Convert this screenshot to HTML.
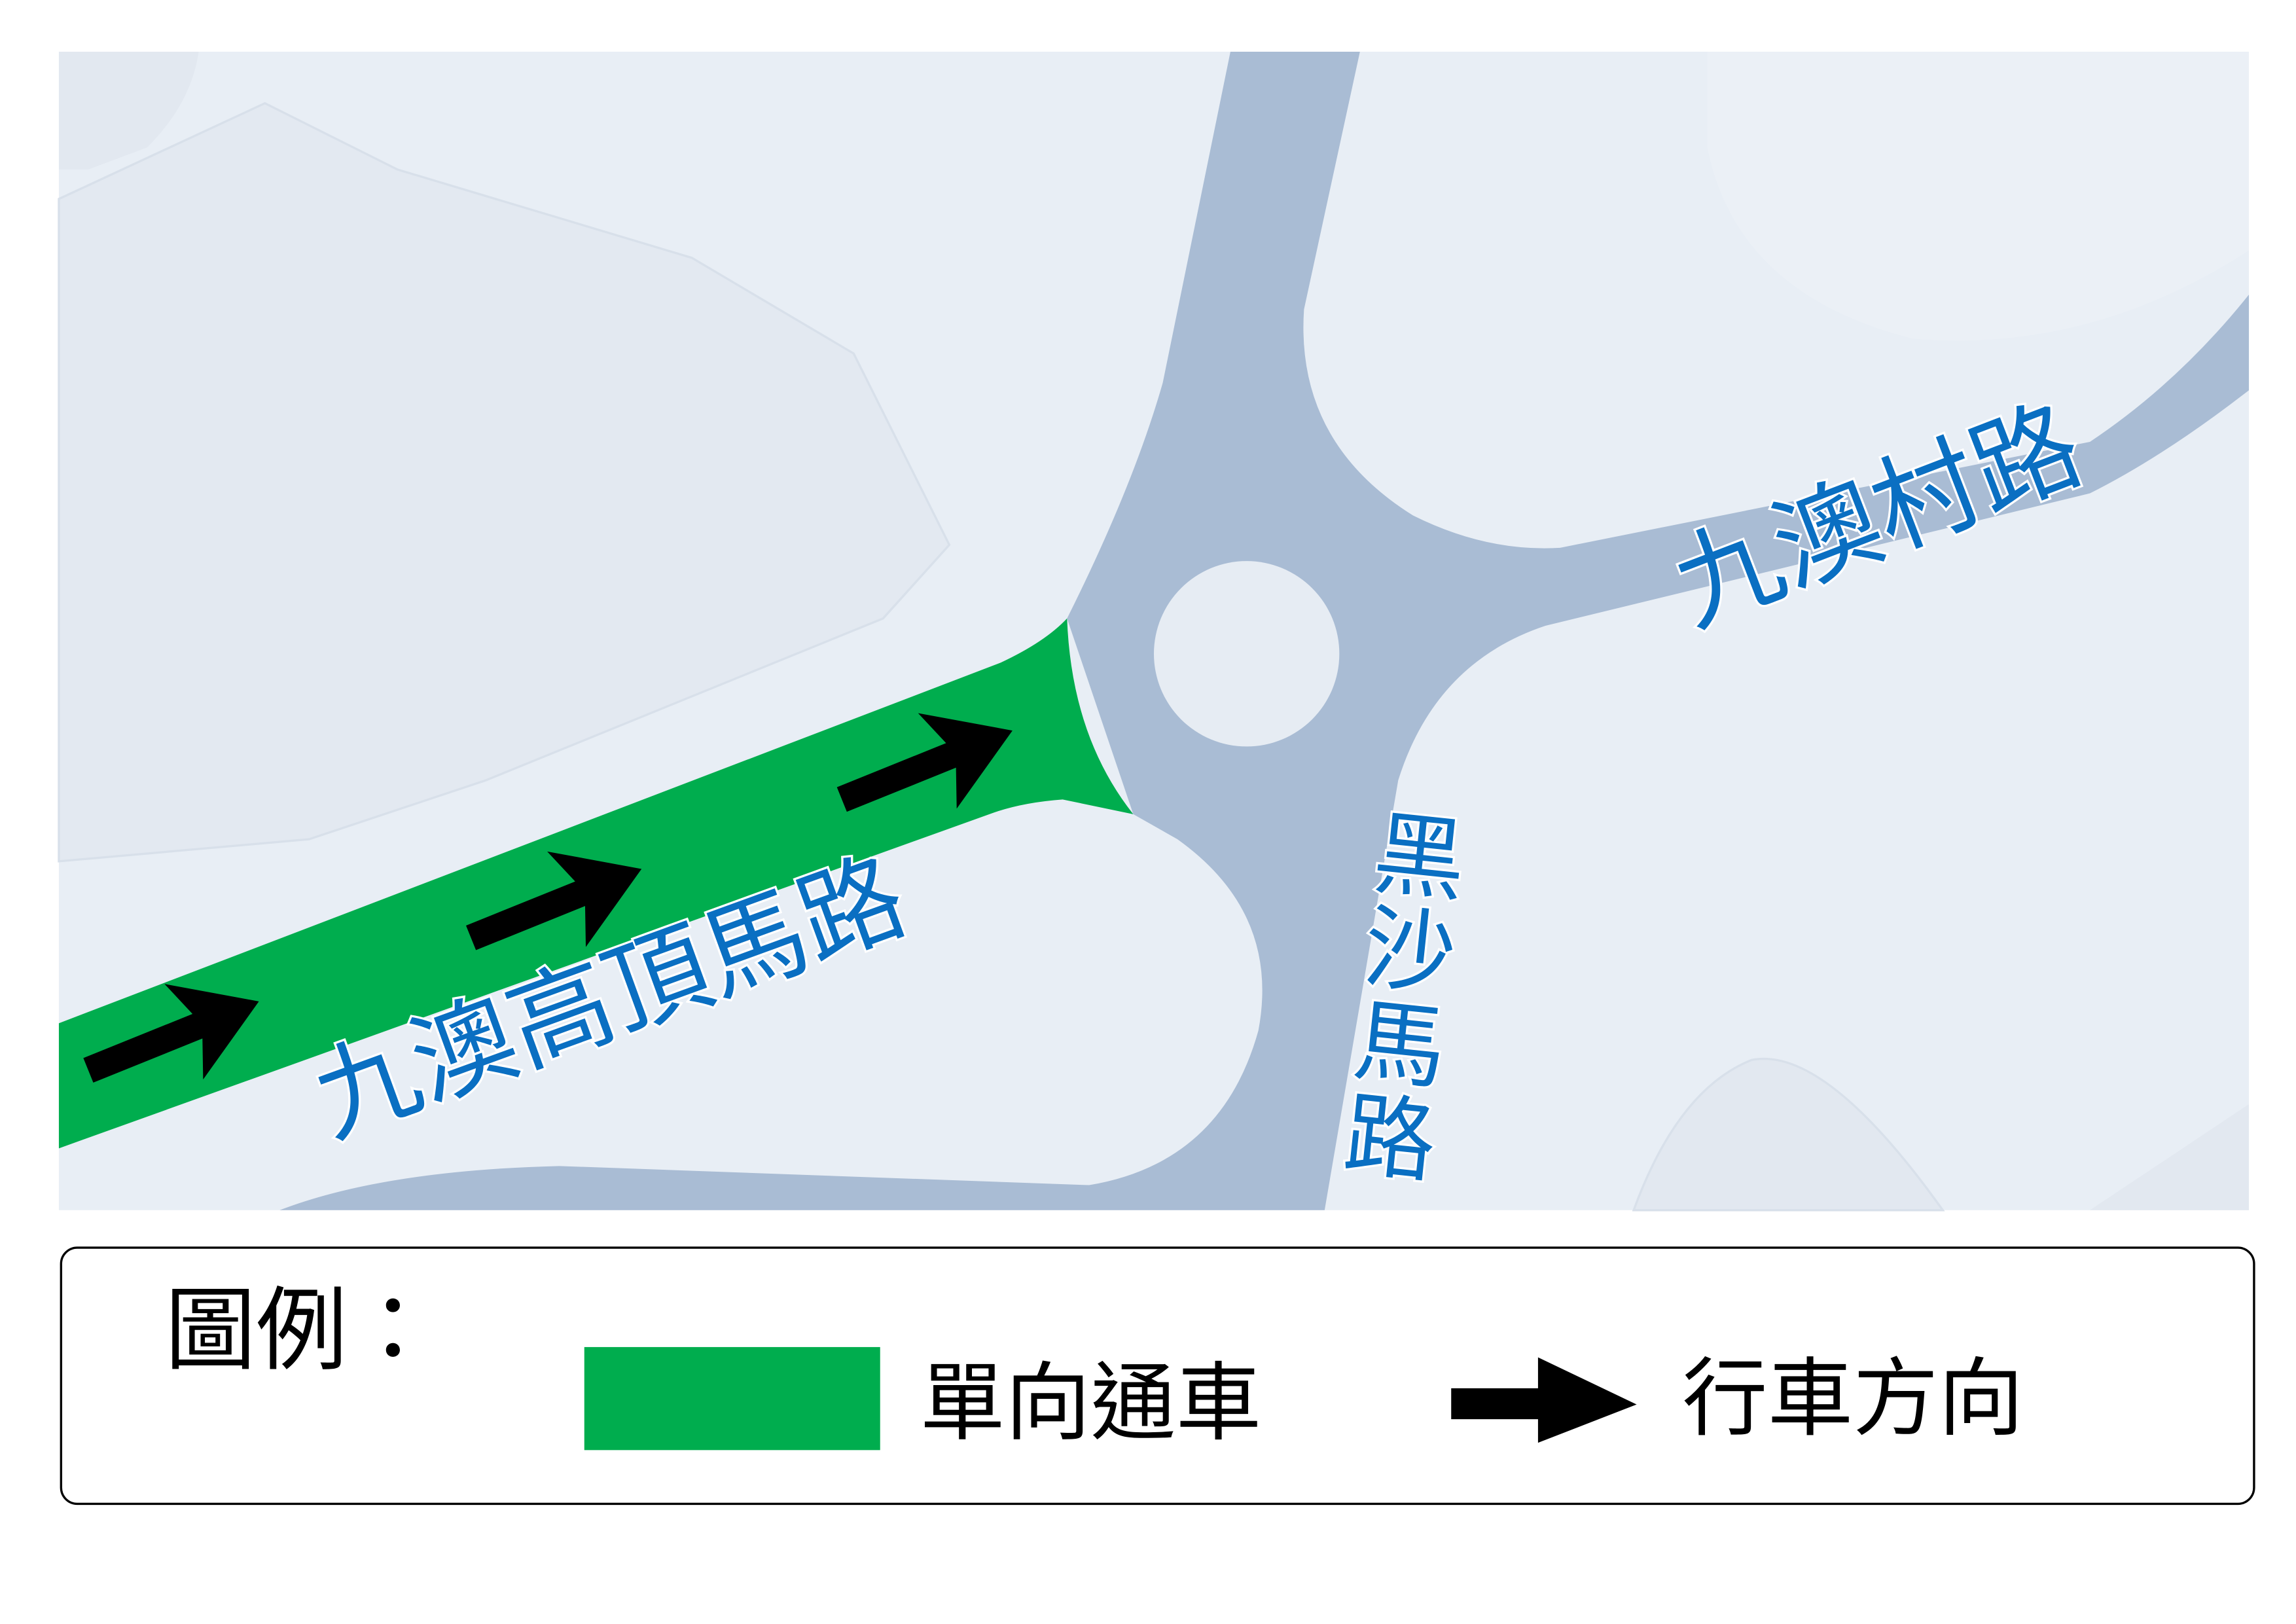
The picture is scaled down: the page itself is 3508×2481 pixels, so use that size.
<!DOCTYPE html>
<html><head><meta charset="utf-8"><style>
html,body{margin:0;padding:0;background:#fff;}
svg{display:block;}
text{font-family:"Liberation Sans","Noto Sans CJK TC",sans-serif;}
</style></head><body>
<svg width="3508" height="2481" viewBox="0 0 1560 1103" xmlns="http://www.w3.org/2000/svg">
<rect width="1560" height="1103" fill="#fff"/>
<rect x="40" y="35" width="1488" height="787" fill="#e8eef5"/>
<path d="M40,35 L135,35 Q130,70 100,100 L60,115 L40,115 Z" fill="#e2e8f0"/>
<path d="M40,135 L180,70 L270,115 L470,175 L580,240 L645,370 L600,420 L330,530 L210,570 L40,585 Z" fill="#e3e9f1" stroke="#d8e0ea" stroke-width="1.5"/>
<path d="M1160,35 L1528,35 L1528,170 Q1420,240 1300,230 Q1180,200 1160,100 Z" fill="#ebf0f6"/>
<path d="M1110,822 Q1140,740 1190,720 Q1240,710 1320,822 Z" fill="#e2e8f0" stroke="#d8e0ea" stroke-width="1.5"/>
<path d="M1420,822 L1528,750 L1528,822 Z" fill="#e2e8f0"/>
<path d="M836,35 L924,35 L886,210 Q880,300 960,350 Q1010,375 1060,372 L1420,300 Q1480,260 1528,200 L1528,265 Q1470,310 1420,335 L1050,425 Q975,450 950,530 L900,822 L190,822 Q260,795 380,792 L740,805 Q830,790 855,700 Q870,620 800,570 L770,553 L725,420 Q770,330 790,260 Z" fill="#a9bcd4"/>
<circle cx="847" cy="444" r="63" fill="#e6ecf3"/>
<path d="M40,695 L680,450 Q710,436 725,420 Q728,500 770,553 L722,543 Q695,545 675,552 L40,780 Z" fill="#00ad4e"/>
<g fill="#000">
<g transform="translate(60,727) rotate(-22)"><path d="M0,-9 L80,-9 L70,-35 L125,0 L70,35 L80,9 L0,9 Z"/></g>
<g transform="translate(320,637) rotate(-22)"><path d="M0,-9 L80,-9 L70,-35 L125,0 L70,35 L80,9 L0,9 Z"/></g>
<g transform="translate(572,543) rotate(-22)"><path d="M0,-9 L80,-9 L70,-35 L125,0 L70,35 L80,9 L0,9 Z"/></g>
</g>
<g fill="#0a6fc2" stroke="#fff" stroke-width="3" paint-order="stroke">
<text transform="translate(225,772) rotate(-20)" font-size="70">九澳高頂馬路</text>
<text transform="translate(1150,425) rotate(-21)" font-size="72">九澳村路</text>
</g>
<g fill="#0a6fc2" stroke="#fff" stroke-width="3" paint-order="stroke" font-size="62" transform="translate(968,550) rotate(6)">
<text x="-31" y="54">黑</text>
<text x="-31" y="118">沙</text>
<text x="-31" y="182">馬</text>
<text x="-31" y="246">路</text>
</g>
<rect x="41.5" y="847.5" width="1490" height="174" rx="11" fill="#fff" stroke="#000" stroke-width="1.5"/>
<text x="112" y="925" font-size="62" fill="#000">圖例：</text>
<rect x="397" y="915" width="201" height="70" fill="#00ad4e"/>
<text x="625" y="973" font-size="58" fill="#000">單向通車</text>
<path d="M986,943 L1045,943 L1045,922 L1112,954 L1045,980 L1045,964 L986,964 Z" fill="#000"/>
<text x="1143" y="970" font-size="58" fill="#000">行車方向</text>
</svg>
</body></html>
